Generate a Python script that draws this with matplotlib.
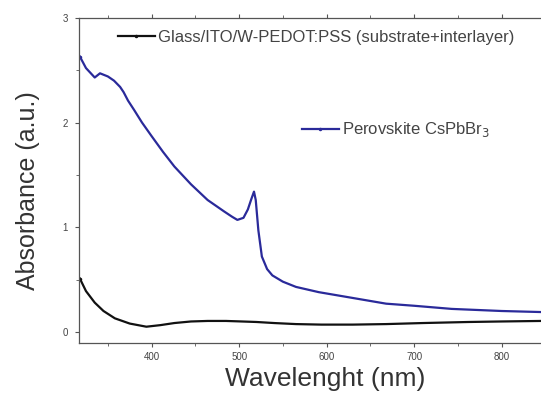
import matplotlib.pyplot as plt
from matplotlib.ticker import MultipleLocator

plt.rcParams['font.family'] = ['Liberation Sans', 'DejaVu Sans']

# values
wl_pero = [318, 325, 335, 341, 350, 357, 364, 368, 373, 380, 389, 400, 413, 426,
           445, 464, 483, 492, 498, 505, 510, 514, 517, 519, 522, 526, 532, 538,
           550, 565, 591, 640, 668, 700, 743, 800, 845]
abs_pero = [2.63, 2.52, 2.43, 2.47, 2.44, 2.40, 2.34, 2.29, 2.21, 2.12, 2.00, 1.87,
            1.72, 1.58, 1.41, 1.26, 1.15, 1.10, 1.07, 1.09, 1.17, 1.27, 1.34, 1.26,
            0.97, 0.72, 0.60, 0.54, 0.48, 0.43, 0.38, 0.31, 0.27, 0.25, 0.22, 0.20, 0.19]

wl_sub = [318, 325, 335, 345, 358, 375, 394, 410, 426, 445, 464, 485, 503, 520,
          540, 565, 594, 630, 668, 710, 762, 800, 845]
abs_sub = [0.51, 0.39, 0.28, 0.20, 0.13, 0.08, 0.05, 0.065, 0.085, 0.10, 0.105,
           0.105, 0.10, 0.095, 0.085, 0.075, 0.07, 0.07, 0.075, 0.085, 0.095, 0.10, 0.105]

lab_sub = 'Glass/ITO/W-PEDOT:PSS (substrate+interlayer)'
lab_pero = 'Perovskite CsPbBr$_3$'

fig = plt.figure(figsize=(5.41, 3.96), dpi=100)
ax = fig.add_axes([0.146, 0.134, 0.854, 0.821])

l1, = ax.plot(wl_sub, abs_sub, '-', color='#111111', lw=1.6,
              marker='.', ms=3, markevery=50)
l2, = ax.plot(wl_pero, abs_pero, '-', color='#2a2a9a', lw=1.6,
              marker='.', ms=3, markevery=50)

ax.set_xlim(317, 845)
ax.set_ylim(-0.105, 3.0)
ax.xaxis.set_major_locator(MultipleLocator(100))
ax.xaxis.set_minor_locator(MultipleLocator(50))
ax.yaxis.set_major_locator(MultipleLocator(1))
ax.yaxis.set_minor_locator(MultipleLocator(0.5))
ax.tick_params(axis='both', which='both', direction='out', labelsize=7,
               colors='#555555', labelcolor='#444444')
ax.tick_params(which='major', length=3)
ax.tick_params(which='minor', length=2)
ax.tick_params(axis='x', top=True, which='both')
ax.tick_params(axis='y', pad=5)
ax.spines['right'].set_visible(False)
for s in ['left', 'bottom', 'top']:
    ax.spines[s].set_color('#555555')
    ax.spines[s].set_linewidth(0.9)

ax.set_xlabel('Wavelenght (nm)', fontsize=19, color='#333333')
ax.xaxis.set_label_coords(0.532, -0.075)
ax.set_ylabel('Absorbance (a.u.)', fontsize=18, color='#333333')
ax.yaxis.set_label_coords(-0.084, 0.468)

leg1 = ax.legend([l1], [lab_sub], loc='center left', bbox_to_anchor=(0.052, 0.94),
                 frameon=False, fontsize=12, handlelength=2.2, handletextpad=0.2,
                 numpoints=1, labelcolor='#444444')
ax.add_artist(leg1)
ax.legend([l2], [lab_pero], loc='center left', bbox_to_anchor=(0.45, 0.655),
          frameon=False, fontsize=12, handlelength=2.2, handletextpad=0.2,
          numpoints=1, labelcolor='#444444')

fig.savefig('out.png', dpi=100)
